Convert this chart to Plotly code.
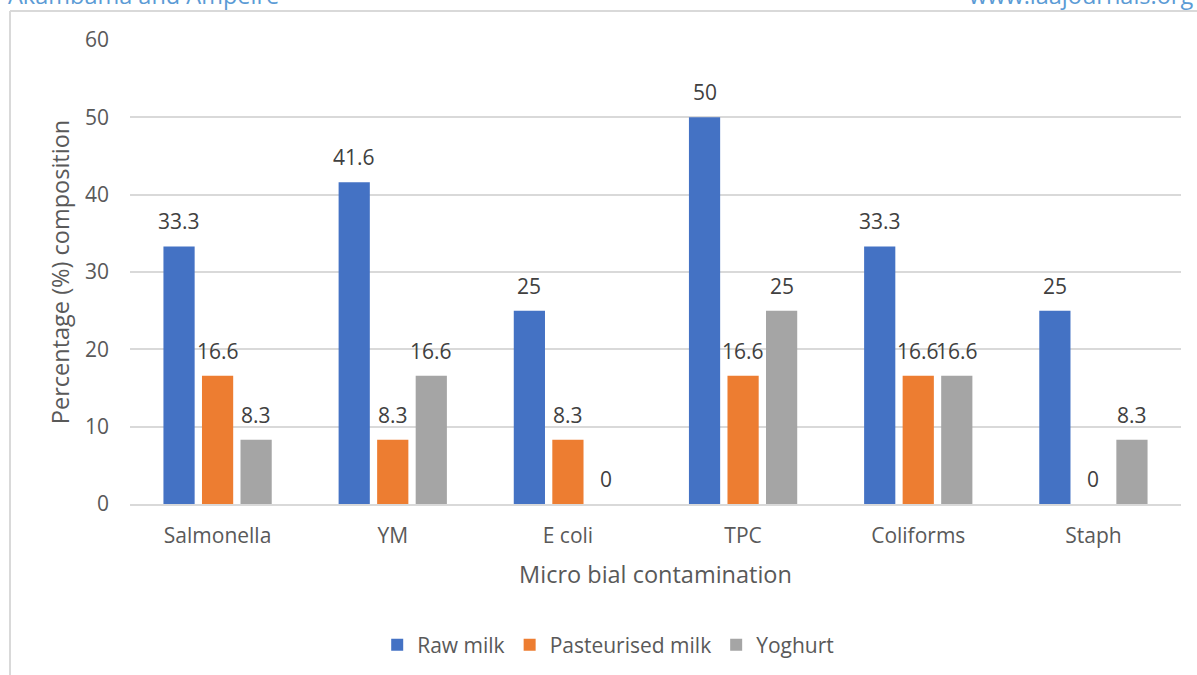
import plotly.graph_objects as go

categories = ["Salmonella", "YM", "E coli", "TPC", "Coliforms", "Staph"]
raw_milk = [33.3, 41.6, 25, 50, 33.3, 25]
pasteurised_milk = [16.6, 8.3, 8.3, 16.6, 16.6, 0]
yoghurt = [8.3, 16.6, 0, 25, 16.6, 8.3]
series_names = ["Raw milk", "Pasteurised milk", "Yoghurt"]
series_values = [raw_milk, pasteurised_milk, yoghurt]
colors = ["#4472C4", "#ED7D31", "#A5A5A5"]
y_ticks = [0, 10, 20, 30, 40, 50, 60]

FONT = "Open Sans"
TXT = "#595959"
W, H = 1197, 675
ML, MR, MT, MB = 130, 16, 40, 171
BARGAP, BARGROUPGAP = 0.34, 0.19

fig = go.Figure()
for name, vals, col in zip(series_names, series_values, colors):
    fig.add_trace(go.Bar(x=categories, y=vals, name=name, marker=dict(color=col, line=dict(width=0))))

plot_w = W - ML - MR
plot_h = H - MT - MB
slot = plot_w / len(categories) * (1 - BARGAP) / len(series_names)
annotations = []
for i, vals in enumerate(series_values):
    for c, v in zip(categories, vals):
        annotations.append(dict(x=c, y=v, xref="x", yref="y", text=f"{v:g}", showarrow=False,
                                xshift=(i - 1) * slot, yshift=25, yanchor="middle",
                                font=dict(family=FONT, size=21, color="#404040")))

def px_x(p):
    return (p - ML) / plot_w

def px_y(p):
    return (H - MB - p) / plot_h

annotations.append(dict(x=px_x(6), y=px_y(-5), xref="paper", yref="paper", text="Akambama and Ampeire",
                        showarrow=False, xanchor="left", yanchor="middle",
                        font=dict(family=FONT, size=23.5, color="#5B9BD5")))
annotations.append(dict(x=px_x(1195), y=px_y(-5), xref="paper", yref="paper", text="www.iaajournals.org",
                        showarrow=False, xanchor="right", yanchor="middle",
                        font=dict(family=FONT, size=23.5, color="#5B9BD5")))

shapes = [
    dict(type="line", xref="paper", yref="paper", x0=px_x(10), x1=px_x(1200), y0=px_y(11), y1=px_y(11),
         line=dict(color="#D9D9D9", width=2), layer="below"),
    dict(type="line", xref="paper", yref="paper", x0=px_x(10), x1=px_x(10), y0=px_y(11), y1=px_y(680),
         line=dict(color="#D9D9D9", width=2), layer="below"),
]

fig.update_layout(
    width=W, height=H,
    margin=dict(l=ML, r=MR, t=MT, b=MB, autoexpand=False),
    paper_bgcolor="white", plot_bgcolor="white",
    barmode="group", bargap=BARGAP, bargroupgap=BARGROUPGAP,
    font=dict(family=FONT, size=21, color=TXT),
    annotations=annotations,
    shapes=shapes,
    legend=dict(orientation="h", x=0.455, xanchor="center", y=px_y(645), yanchor="middle",
                font=dict(family=FONT, size=21, color=TXT), itemwidth=30, traceorder="normal"),
    xaxis=dict(showgrid=False, showline=True, linecolor="#D9D9D9", linewidth=2, ticks="",
               ticklabelstandoff=12, tickfont=dict(family=FONT, size=21, color=TXT),
               title=dict(text="Micro bial contamination", standoff=18,
                          font=dict(family=FONT, size=23.5, color=TXT))),
    yaxis=dict(range=[0, 60], tickvals=y_ticks, showgrid=True, gridcolor="#D9D9D9", gridwidth=2,
               zeroline=False, showline=False, ticks="", ticklabelstandoff=20,
               tickfont=dict(family=FONT, size=21, color=TXT),
               title=dict(text="Percentage (%) composition", standoff=8,
                          font=dict(family=FONT, size=23.5, color=TXT))),
)

fig.write_html("out.html")
